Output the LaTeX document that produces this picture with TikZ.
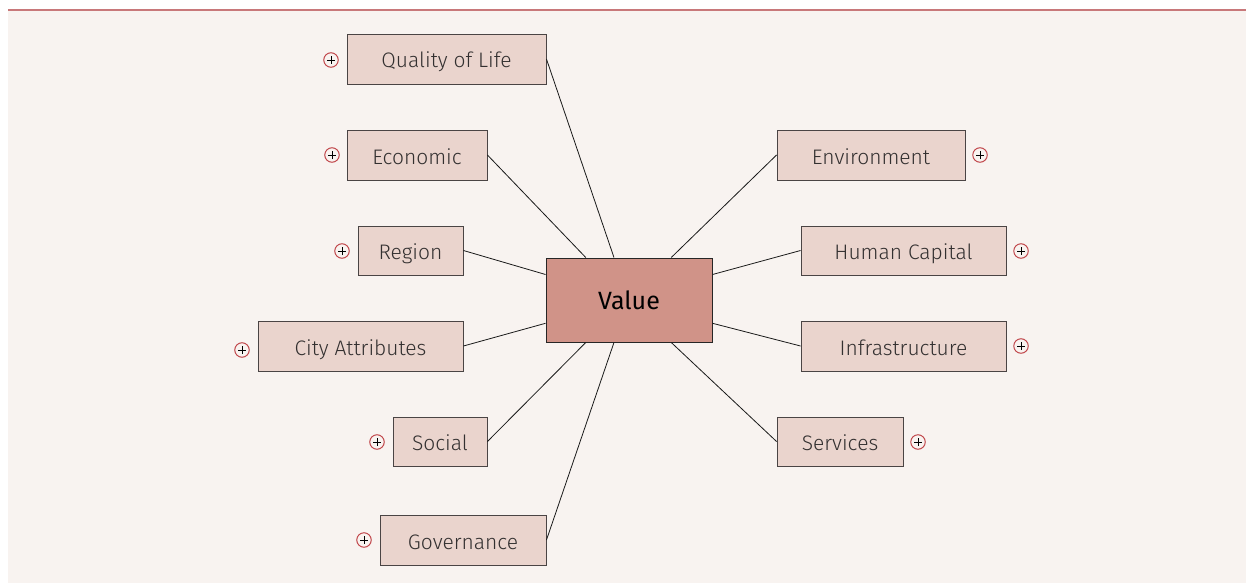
\documentclass[tikz,border=0pt]{standalone}
\usepackage{fontspec}
\setmainfont{Fira Sans Light}[BoldFont={Fira Sans}]
\usetikzlibrary{calc}
\definecolor{bgc}{HTML}{F8F3F0}
\definecolor{topline}{HTML}{C8787A}
\definecolor{boxfill}{HTML}{EAD4CD}
\definecolor{boxdraw}{HTML}{4A4444}
\definecolor{valfill}{HTML}{D09388}
\definecolor{plusred}{HTML}{C0454A}
\definecolor{txt}{HTML}{333030}
\tikzset{
  topic/.style={draw=boxdraw, line width=0.9pt, fill=boxfill, inner sep=0pt,
    text height=18pt, text depth=0pt,
    font=\fontsize{21}{21}\selectfont, text=txt},
  central/.style={draw=black!85, line width=1pt, fill=valfill, inner sep=0pt,
    minimum width=166pt, minimum height=84pt, font=\bfseries\fontsize{25}{25}\selectfont, text=black},
  plus/.style={circle, draw=plusred, line width=1pt, inner sep=0pt, minimum size=14.5pt,
    path picture={\draw[black, line width=0.9pt] ($(path picture bounding box.center)+(-4pt,0)$) -- ($(path picture bounding box.center)+(4pt,0)$)
      ($(path picture bounding box.center)+(0,-4pt)$) -- ($(path picture bounding box.center)+(0,4pt)$);}},
  link/.style={draw=black!90, line width=0.8pt}
}
\begin{document}
\begin{tikzpicture}[x=1pt,y=-1pt]
\useasboundingbox (0,0) rectangle (1246,583);
\fill[white] (0,0) rectangle (1246,583);
\fill[bgc] (8,11) rectangle (1246,583);
\draw[topline, line width=2pt] (8,10.5) -- (1246,10.5);

\node[central] (v) at (629,300) {Value};

\node[topic, minimum width=199pt, minimum height=50pt] (qol) at (446.5,59) {Quality of Life};
\node[topic, minimum width=140pt, minimum height=50pt] (eco) at (417,155) {Economic};
\node[topic, minimum width=105pt, minimum height=49pt] (reg) at (410.5,250.5) {Region};
\node[topic, minimum width=205pt, minimum height=50pt] (city) at (360.5,346) {City Attributes};
\node[topic, minimum width=94pt, minimum height=49pt] (soc) at (440,441.5) {Social};
\node[topic, minimum width=166pt, minimum height=50pt] (gov) at (463,540) {Governance};
\node[topic, minimum width=188pt, minimum height=50pt] (env) at (871,155) {Environment};
\node[topic, minimum width=205pt, minimum height=49pt] (hc) at (903.5,250.5) {Human Capital};
\node[topic, minimum width=205pt, minimum height=50pt] (inf) at (903.5,346) {Infrastructure};
\node[topic, minimum width=126pt, minimum height=49pt] (srv) at (840,441.5) {Services};

\node[plus] (pqol) at (331,60) {};
\node[plus] (peco) at (332,155) {};
\node[plus] (preg) at (342,251) {};
\node[plus] (pcity) at (242,350) {};
\node[plus] (psoc) at (377,442) {};
\node[plus] (pgov) at (364,540) {};
\node[plus] (penv) at (980,155) {};
\node[plus] (phc) at (1021,251) {};
\node[plus] (pinf) at (1021,346) {};
\node[plus] (psrv) at (918,442) {};

\coordinate (t1) at ($(v.north west)!0.241!(v.north east)$);
\coordinate (t2) at ($(v.north west)!0.41!(v.north east)$);
\coordinate (t3) at ($(v.north west)!0.753!(v.north east)$);
\coordinate (b1) at ($(v.south west)!0.241!(v.south east)$);
\coordinate (b2) at ($(v.south west)!0.41!(v.south east)$);
\coordinate (b3) at ($(v.south west)!0.753!(v.south east)$);
\coordinate (l1) at ($(v.north west)!0.2!(v.south west)$);
\coordinate (l2) at ($(v.north west)!0.774!(v.south west)$);
\coordinate (r1) at ($(v.north east)!0.2!(v.south east)$);
\coordinate (r2) at ($(v.north east)!0.774!(v.south east)$);

\draw[link] (qol.east) -- (t2);
\draw[link] (eco.east) -- (t1);
\draw[link] (reg.east) -- (l1);
\draw[link] (city.east) -- (l2);
\draw[link] (soc.east) -- (b1);
\draw[link] (gov.east) -- (b2);
\draw[link] (env.west) -- (t3);
\draw[link] (hc.west) -- (r1);
\draw[link] (inf.west) -- (r2);
\draw[link] (srv.west) -- (b3);
\end{tikzpicture}
\end{document}
